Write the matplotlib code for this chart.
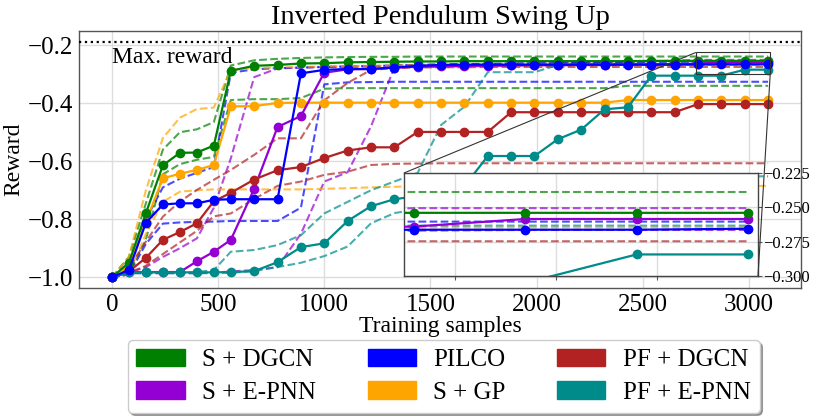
import matplotlib
matplotlib.use("Agg")
import matplotlib.pyplot as plt
from matplotlib.patches import Patch
from mpl_toolkits.axes_grid1.inset_locator import mark_inset

plt.rcParams['font.family'] = ['Liberation Serif', 'DejaVu Serif']

# training samples at which every method was evaluated
x_samples = [0, 80, 160, 240, 320, 400, 480, 560, 670, 780, 890, 1000, 1110, 1220, 1330,
             1440, 1550, 1660, 1770, 1880, 1990, 2100, 2210, 2320, 2430, 2540, 2650,
             2760, 2870, 2980, 3090]

max_reward = -0.19

# S + DGCN
s_dgcn_mean = [-1.0, -0.95, -0.779, -0.614, -0.571, -0.570, -0.546, -0.288, -0.271, -0.268,
               -0.263, -0.262, -0.259, -0.258, -0.257, -0.256, -0.256, -0.255, -0.255, -0.255,
               -0.255, -0.255, -0.255, -0.255, -0.255, -0.254, -0.254, -0.254, -0.254, -0.254, -0.254]
s_dgcn_hi = [-1.0, -0.93, -0.745, -0.56, -0.50, -0.49, -0.465, -0.27, -0.252, -0.247,
             -0.244, -0.242, -0.241, -0.240, -0.240, -0.239, -0.239, -0.239, -0.239, -0.239,
             -0.239, -0.239, -0.239, -0.239, -0.239, -0.239, -0.239, -0.239, -0.239, -0.239, -0.239]
s_dgcn_lo = [-1.0, -0.985, -0.87, -0.645, -0.61, -0.595, -0.585, -0.389, -0.386, -0.386,
             -0.382, -0.350, -0.348, -0.348, -0.348, -0.348, -0.348, -0.348, -0.348, -0.348,
             -0.348, -0.348, -0.348, -0.348, -0.340, -0.340, -0.340, -0.340, -0.340, -0.340, -0.340]

# S + E-PNN
s_epnn_mean = [-1.0, -0.982, -0.982, -0.982, -0.982, -0.945, -0.912, -0.871, -0.695, -0.482,
               -0.444, -0.295, -0.283, -0.282, -0.277, -0.274, -0.272, -0.271, -0.270, -0.269,
               -0.268, -0.268, -0.267, -0.267, -0.266, -0.266, -0.265, -0.264, -0.2585, -0.2585, -0.2585]
s_epnn_hi = [-1.0, -0.98, -0.965, -0.93, -0.90, -0.866, -0.76, -0.59, -0.31, -0.28,
             -0.277, -0.275, -0.274, -0.273, -0.270, -0.268, -0.267, -0.266, -0.265, -0.264,
             -0.263, -0.262, -0.261, -0.260, -0.258, -0.256, -0.253, -0.2506, -0.2506, -0.2506, -0.2506]
s_epnn_lo = [-1.0, -0.986, -0.986, -0.986, -0.986, -0.986, -0.984, -0.98, -0.975, -0.965,
             -0.85, -0.67, -0.638, -0.48, -0.277, -0.275, -0.274, -0.273, -0.272, -0.271,
             -0.270, -0.270, -0.269, -0.269, -0.268, -0.268, -0.267, -0.267, -0.2665, -0.2665, -0.2665]

# PILCO
pilco_mean = [-1.0, -0.975, -0.812, -0.749, -0.745, -0.745, -0.733, -0.731, -0.731, -0.731,
              -0.297, -0.285, -0.282, -0.282, -0.277, -0.271, -0.268, -0.267, -0.267, -0.267,
              -0.267, -0.267, -0.267, -0.267, -0.267, -0.267, -0.267, -0.2663, -0.2663, -0.2663, -0.2656]
pilco_hi = [-1.0, -0.95, -0.80, -0.69, -0.66, -0.64, -0.62, -0.295, -0.283, -0.279,
            -0.277, -0.275, -0.273, -0.272, -0.270, -0.268, -0.266, -0.265, -0.264, -0.263,
            -0.262, -0.262, -0.261, -0.261, -0.2604, -0.2604, -0.2604, -0.2604, -0.2604, -0.2604, -0.2604]
pilco_lo = [-1.0, -0.99, -0.885, -0.815, -0.811, -0.809, -0.808, -0.806, -0.806, -0.806,
            -0.760, -0.335, -0.328, -0.327, -0.326, -0.326, -0.326, -0.326, -0.326, -0.326,
            -0.326, -0.326, -0.326, -0.326, -0.326, -0.326, -0.326, -0.326, -0.326, -0.326, -0.326]

# S + GP
s_gp_mean = [-1.0, -0.96, -0.808, -0.659, -0.643, -0.630, -0.613, -0.411, -0.410, -0.399,
             -0.398, -0.398, -0.398, -0.398, -0.398, -0.398, -0.398, -0.398, -0.398, -0.398,
             -0.398, -0.398, -0.398, -0.398, -0.389, -0.389, -0.389, -0.389, -0.389, -0.389, -0.389]
s_gp_hi = [-1.0, -0.93, -0.70, -0.52, -0.45, -0.42, -0.415, -0.285, -0.279, -0.277,
           -0.275, -0.273, -0.272, -0.271, -0.270, -0.269, -0.268, -0.268, -0.267, -0.267,
           -0.266, -0.266, -0.266, -0.265, -0.265, -0.2646, -0.2646, -0.2646, -0.2646, -0.2646, -0.2646]
s_gp_lo = [-1.0, -0.99, -0.85, -0.74, -0.705, -0.700, -0.697, -0.697, -0.697, -0.697,
           -0.697, -0.695, -0.693, -0.690, -0.688, -0.687, -0.687, -0.686, -0.686, -0.686,
           -0.686, -0.686, -0.685, -0.685, -0.685, -0.685, -0.685, -0.685, -0.685, -0.685, -0.685]

# PF + DGCN
pf_dgcn_mean = [-1.0, -0.98, -0.933, -0.871, -0.844, -0.814, -0.738, -0.709, -0.663, -0.631,
                -0.620, -0.589, -0.563, -0.552, -0.552, -0.499, -0.499, -0.499, -0.499, -0.431,
                -0.431, -0.431, -0.431, -0.431, -0.431, -0.431, -0.431, -0.403, -0.403, -0.403, -0.403]
pf_dgcn_hi = [-1.0, -0.97, -0.877, -0.791, -0.739, -0.699, -0.664, -0.630, -0.578, -0.521,
              -0.521, -0.39, -0.33, -0.285, -0.279, -0.277, -0.276, -0.276, -0.275, -0.275,
              -0.275, -0.275, -0.275, -0.275, -0.275, -0.275, -0.275, -0.2747, -0.2747, -0.2747, -0.2747]
pf_dgcn_lo = [-1.0, -0.99, -0.96, -0.92, -0.88, -0.84, -0.79, -0.78, -0.73, -0.685,
              -0.67, -0.647, -0.636, -0.613, -0.609, -0.608, -0.607, -0.607, -0.607, -0.607,
              -0.607, -0.607, -0.607, -0.607, -0.607, -0.607, -0.607, -0.607, -0.607, -0.607, -0.607]

# PF + E-PNN
pf_epnn_mean = [-1.0, -0.983, -0.983, -0.983, -0.983, -0.983, -0.983, -0.982, -0.979, -0.948,
                -0.896, -0.883, -0.806, -0.755, -0.731, -0.72, -0.70, -0.686, -0.582, -0.582,
                -0.582, -0.524, -0.491, -0.421, -0.414, -0.305, -0.305, -0.305, -0.305, -0.2843, -0.2843]
pf_epnn_hi = [-1.0, -0.985, -0.985, -0.985, -0.985, -0.982, -0.975, -0.912, -0.906, -0.889,
              -0.855, -0.78, -0.74, -0.70, -0.67, -0.64, -0.475, -0.412, -0.293, -0.293,
              -0.293, -0.268, -0.266, -0.265, -0.264, -0.264, -0.2633, -0.2633, -0.2633, -0.2633, -0.2633]
pf_epnn_lo = [-1.0, -0.986, -0.986, -0.986, -0.986, -0.986, -0.986, -0.985, -0.978, -0.965,
              -0.95, -0.927, -0.894, -0.814, -0.779, -0.765, -0.75, -0.735, -0.72, -0.705,
              -0.695, -0.685, -0.675, -0.668, -0.662, -0.658, -0.655, -0.653, -0.652, -0.652, -0.652]

methods = [
    ("S + DGCN", "green", s_dgcn_mean, s_dgcn_lo, s_dgcn_hi),
    ("S + E-PNN", "darkviolet", s_epnn_mean, s_epnn_lo, s_epnn_hi),
    ("PILCO", "blue", pilco_mean, pilco_lo, pilco_hi),
    ("S + GP", "orange", s_gp_mean, s_gp_lo, s_gp_hi),
    ("PF + DGCN", "firebrick", pf_dgcn_mean, pf_dgcn_lo, pf_dgcn_hi),
    ("PF + E-PNN", "darkcyan", pf_epnn_mean, pf_epnn_lo, pf_epnn_hi),
]
draw_order = [3, 1, 4, 5, 0, 2]


def draw_curves(axis):
    for name, color, mean, lo, hi in methods:
        axis.plot(x_samples, hi, '--', color=color, alpha=0.7, lw=1.5, zorder=2)
        axis.plot(x_samples, lo, '--', color=color, alpha=0.7, lw=1.5, zorder=2)
    for i in draw_order:
        name, color, mean, lo, hi = methods[i]
        axis.plot(x_samples, mean, '-o', color=color, lw=1.6, ms=6, zorder=3)


fig = plt.figure(figsize=(8.14, 4.19), dpi=100)
ax = fig.add_axes([79 / 814, 1 - 288 / 419, 722 / 814, 257 / 419])

draw_curves(ax)
ax.axhline(max_reward, color='black', ls=':', lw=1.6, zorder=4)
ax.text(0, -0.243, "Max. reward", fontsize=17, va='center', ha='left')

ax.set_xlim(-155, 3245)
ax.set_ylim(-1.037, -0.151)
ax.set_xticks([0, 500, 1000, 1500, 2000, 2500, 3000])
ax.set_yticks([-1.0, -0.8, -0.6, -0.4, -0.2])
ax.grid(True, color='#dddddd', lw=1, zorder=0)
ax.set_axisbelow(True)
ax.tick_params(length=0, labelsize=18, pad=4)
for s in ax.spines.values():
    s.set_color('#555555')
    s.set_linewidth(1)
ax.set_title("Inverted Pendulum Swing Up", fontsize=20.5, pad=5)
ax.set_xlabel("Training samples", fontsize=17, labelpad=0)
ax.set_ylabel("Reward", fontsize=17, labelpad=3)

# zoomed inset on the last evaluations
axins = fig.add_axes([404 / 814, 1 - 276 / 419, 354 / 814, 103 / 419])
draw_curves(axins)
axins.set_xlim(2750, 3100)
axins.set_ylim(-0.3, -0.225)
axins.set_xticks([2800, 2900, 3000])
axins.set_xticklabels([])
axins.set_yticks([-0.3, -0.275, -0.25, -0.225])
axins.set_yticklabels(["\u22120.300", "\u22120.275", "\u22120.250", "\u22120.225"])
axins.yaxis.tick_right()
axins.tick_params(labelsize=12, length=3, pad=1, color='#555555')
axins.grid(True, color='#dddddd', lw=1)
axins.set_axisbelow(True)
for s in axins.spines.values():
    s.set_color('#444444')
    s.set_linewidth(1)
mark_inset(ax, axins, loc1=2, loc2=4, fc='none', ec='#333333', lw=0.8, zorder=5)

handles = [Patch(facecolor=m[1], edgecolor=m[1]) for m in methods]
labels = [m[0] for m in methods]
fig.legend(handles, labels, loc='upper center', bbox_to_anchor=(0.545, 1 - 340 / 419), ncol=3,
           fontsize=18, handlelength=1.93, handleheight=0.7, handletextpad=0.7,
           columnspacing=2.06, labelspacing=0.4, borderpad=0.35, borderaxespad=0,
           fancybox=True, shadow=True, framealpha=1, edgecolor='#cccccc')

fig.savefig("out.png", dpi=100)
